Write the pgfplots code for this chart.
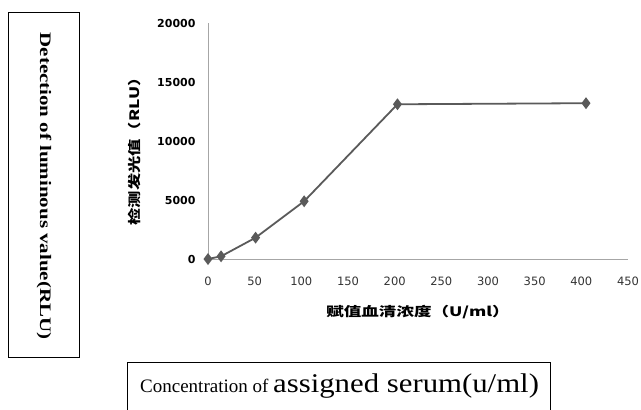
\documentclass[border=0pt]{standalone}
\usepackage{fontspec}
\usepackage{graphicx}
\usepackage{pgfplots}
\pgfplotsset{compat=1.18}
\setmainfont{Liberation Serif}
\newfontfamily\dejavu{DejaVu Sans}
\newfontfamily\cjk{Noto Sans CJK SC}
\definecolor{linegray}{HTML}{5A5A5A}
\definecolor{axgray}{HTML}{A6A6A6}

\begin{document}
\begin{tikzpicture}
\path[use as bounding box] (0pt,0pt) rectangle (641pt,-410pt);
% left caption box
\draw[line width=1pt] (8pt,-12pt) rectangle (79pt,-357pt);
\node[rotate=-90] at (44pt,-186pt)
  {\scalebox{1.31}[1]{\fontsize{16}{16}\selectfont\bfseries Detection of luminous value(RLU)}};
% bottom caption box
\draw[line width=1pt] (127pt,-362pt) rectangle (550pt,-420pt);
\node[anchor=base west, inner sep=0pt] at (140pt,-392pt)
  {\fontsize{19}{19}\selectfont Concentration of \scalebox{1.14}[1]{\fontsize{27}{27}\selectfont assigned serum(u/ml)}};

\begin{axis}[
  at={(208pt,-259pt)}, anchor=south west,
  scale only axis, width=420pt, height=235.7pt,
  xmin=0, xmax=450, ymin=0, ymax=20000,
  axis x line=bottom, axis y line=left,
  axis line style={axgray, line width=0.8pt, -},
  xtick={0,50,...,450}, ytick={0,5000,...,20000},
  major tick length=0pt,
  scaled y ticks=false,
  /pgf/number format/1000 sep={},
  /pgf/number format/assume math mode=true,
  xticklabel style={font=\dejavu\fontsize{11.5}{12}\selectfont, text=black!80, yshift=-14.5pt},
  yticklabel style={font=\dejavu\bfseries\fontsize{11}{12}\selectfont, xshift=-9pt},
  clip=false,
  xlabel={\cjk\bfseries\fontsize{13}{13}\selectfont\scalebox{1.35}[1]{赋值血清浓度（U/ml）}},
  ylabel={\cjk\bfseries\fontsize{13}{13}\selectfont\scalebox{1.33}[1]{检测发光值（RLU）}},
  xlabel style={at={(axis description cs:0.5,-0.2249)}, anchor=center},
  ylabel style={at={(axis description cs:-0.1738,0.473)}, anchor=center},
]
\addplot[color=linegray, line width=1.8pt, mark=diamond*, mark size=4.5pt,
  mark options={fill=linegray, solid}]
  coordinates {(0,0) (14,230) (51,1810) (103,4900) (203,13130) (405,13220)};
\end{axis}
\end{tikzpicture}
\end{document}
